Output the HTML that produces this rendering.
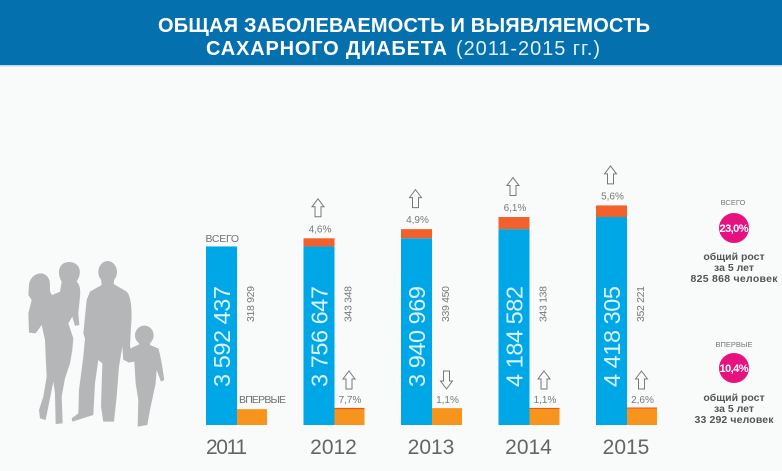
<!DOCTYPE html>
<html lang="ru">
<head>
<meta charset="utf-8">
<title>Общая заболеваемость и выявляемость сахарного диабета</title>
<style>
html,body{margin:0;padding:0;background:#f9fafa;}
svg{display:block;font-family:"Liberation Sans","Noto Sans CJK JP",sans-serif;}
</style>
</head>
<body>
<svg id="chart" xmlns="http://www.w3.org/2000/svg" width="782" height="471" viewBox="0 0 782 471">
  <rect x="0" y="0" width="782" height="471" fill="#f9fafa"/>
  <rect x="0" y="0" width="782" height="65" fill="#0470ae"/>
  <rect x="0" y="65" width="782" height="1.5" fill="#bcdcec"/>
  <text x="158" y="32" font-size="20" font-weight="700" fill="#fff" textLength="492">ОБЩАЯ ЗАБОЛЕВАЕМОСТЬ И ВЫЯВЛЯЕМОСТЬ</text>
  <text x="206" y="55" font-size="20" font-weight="700" fill="#fff" textLength="241">САХАРНОГО ДИАБЕТА</text>
  <text x="456" y="55" font-size="20" fill="#e4f0f7" textLength="144">(2011-2015 гг.)</text>

  <g transform="translate(15,250) scale(0.3333)" fill="#b5b6b8">
    <path d="M42,105 C45,70 90,55 103,90 C108,110 100,125 112,135 L135,125 L140,95 C125,70 130,38 160,36 C190,35 202,60 190,85 L185,95 C195,105 197,120 195,140 L190,190 L193,225 L180,228 L172,200 L160,220 L175,265 L172,300 L165,340 L150,385 L140,440 L143,520 L122,522 L120,430 L115,395 L92,510 L75,505 L72,480 L85,440 L95,380 L92,320 L90,270 L80,225 L62,250 L42,248 L40,190 L50,150 L40,135 Z"/>
    <ellipse cx="278" cy="66" rx="28" ry="33"/>
    <path d="M258,85 L298,85 L296,102 L335,125 C350,140 352,190 348,230 L345,290 L350,300 L340,335 L325,330 L322,290 L312,350 L305,440 L297,515 L265,515 L258,470 L262,340 L250,330 L240,400 L235,495 L172,515 L170,505 L190,490 L192,420 L205,320 L210,265 L205,250 L215,150 L225,125 L260,105 Z"/>
    <ellipse cx="388" cy="256" rx="28" ry="29"/>
    <path d="M372,278 L405,278 L405,285 L430,295 C440,330 445,370 448,390 L438,395 L425,360 L422,400 L405,480 L397,525 L368,530 L370,450 L362,400 L358,335 L340,338 L325,325 L340,305 L352,292 L372,284 Z"/>
  </g>

  <g id="marks"></g>

  <text x="205.5" y="242" font-size="10.5" fill="#6f7173" textLength="33.5">ВСЕГО</text>
  <text x="239" y="403" font-size="10.5" fill="#6f7173" textLength="47">ВПЕРВЫЕ</text>

  <g text-anchor="middle">
    <text x="733" y="205" font-size="7.5" fill="#777">ВСЕГО</text>
    <circle cx="734" cy="228" r="15" fill="#e5127f"/>
    <text x="734" y="232" font-size="11" font-weight="700" fill="#fff" textLength="29">23,0%</text>
    <text x="734" y="260" font-size="10.5" font-weight="700" fill="#555">общий рост</text>
    <text x="734" y="271" font-size="10.5" font-weight="700" fill="#555">за 5 лет</text>
    <text x="734" y="282" font-size="10.5" font-weight="700" fill="#555" textLength="87">825 868 человек</text>
  </g>
  <g text-anchor="middle">
    <text x="734" y="347" font-size="7.5" fill="#777">ВПЕРВЫЕ</text>
    <circle cx="734" cy="368" r="15" fill="#e5127f"/>
    <text x="734" y="372" font-size="11" font-weight="700" fill="#fff" textLength="29">10,4%</text>
    <text x="734" y="401" font-size="10.5" font-weight="700" fill="#555">общий рост</text>
    <text x="734" y="412" font-size="10.5" font-weight="700" fill="#555">за 5 лет</text>
    <text x="734" y="423" font-size="10.5" font-weight="700" fill="#555" textLength="79">33 292 человек</text>
  </g>
</svg>
<script>
const years = ["2011", "2012", "2013", "2014", "2015"];
const totalCases = [3592437, 3756647, 3940969, 4184582, 4418305];
const totalIncrease = [0, 164210, 184322, 243613, 233723];
const totalGrowthPct = [null, 4.6, 4.9, 6.1, 5.6];
const newCases = [318929, 343348, 339450, 343138, 352221];
const newIncrease = [0, 24419, 0, 3688, 9083];
const newGrowthPct = [null, 7.7, -1.1, 1.1, 2.6];

const NS = "http://www.w3.org/2000/svg";
const marks = document.getElementById("marks");
const BASE_Y = 425;
const PX_PER_CASE = 0.0000497;
const BAR_W = 31;
function xBand(i) { return 206 + 97.5 * i; }
function yVal(v) { return BASE_Y - v * PX_PER_CASE; }
function fmtNum(v) { return String(v).replace(/\B(?=(\d{3})+(?!\d))/g, " "); }
function fmtPct(v) { return Math.abs(v).toFixed(1).replace(".", ",") + "%"; }
function make(tag, attrs, txt) {
  const el = document.createElementNS(NS, tag);
  for (const k in attrs) el.setAttribute(k, attrs[k]);
  if (txt !== undefined) el.textContent = txt;
  marks.appendChild(el);
  return el;
}
function arrowPoints(cx, top, down) {
  const p = [[0,0],[6,8],[3,8],[3,18],[-3,18],[-3,8],[-6,8]];
  return p.map(function (q) { return (cx + q[0]) + "," + (down ? top + 18 - q[1] : top + q[1]); }).join(" ");
}

years.forEach(function (year, i) {
  const x = xBand(i);
  const totalTop = yVal(totalCases[i]);
  const blueTop = yVal(totalCases[i] - totalIncrease[i]);
  const newTop = yVal(newCases[i]);

  const blue = make("rect", {x: x, y: blueTop, width: BAR_W, height: BASE_Y - blueTop, fill: "#00a7e7"});
  
  

  if (totalIncrease[i] > 0) {
    const red = make("rect", {x: x, y: totalTop, width: BAR_W, height: blueTop - totalTop, fill: "#f2602b"});
    
    
  }

  const orange = make("rect", {x: x + BAR_W, y: newTop, width: 30, height: BASE_Y - newTop, fill: "#f7941e"});
  
  

  if (newIncrease[i] > 0) {
    const strip = make("rect", {x: x + BAR_W, y: newTop, width: 30, height: Math.max(1, newIncrease[i] * PX_PER_CASE), fill: "#e8541f"});
    
    
  }

  const lx = x + 24;
  const totalLabel = make("text", {x: lx, y: 286, transform: "rotate(-90 " + lx + " 286)", "text-anchor": "end", "font-size": 23.5, fill: "#d9f2fc", textLength: 101}, fmtNum(totalCases[i]));
  
  

  const nx = x + 48;
  const newLabel = make("text", {x: nx, y: 286, transform: "rotate(-90 " + nx + " 286)", "text-anchor": "end", "font-size": 10.5, fill: "#77797b", textLength: 36}, fmtNum(newCases[i]));
  
  

  const yearLabel = make("text", {x: x + (i === 0 ? 20.5 : 30), y: 454, "text-anchor": "middle", "font-size": 21, fill: "#636567", textLength: i === 0 ? 41 : 46.7}, year);
  
  

  if (totalGrowthPct[i] !== null) {
    const tp = make("text", {x: x + 16.5, y: totalTop - 6, "text-anchor": "middle", "font-size": 10, fill: "#77797b"}, fmtPct(totalGrowthPct[i]));
    
    
    const ta = make("polygon", {points: arrowPoints(x + 14.5, totalTop - 39.5, totalGrowthPct[i] < 0), fill: "#fbfbfb", stroke: "#77797b", "stroke-width": 1});
    
    
  }
  if (newGrowthPct[i] !== null) {
    const np = make("text", {x: x + BAR_W + 15.5, y: 403, "text-anchor": "middle", "font-size": 10, fill: "#77797b"}, fmtPct(newGrowthPct[i]));
    
    
    const na = make("polygon", {points: arrowPoints(x + BAR_W + 14.5, 371, newGrowthPct[i] < 0), fill: "#fbfbfb", stroke: "#77797b", "stroke-width": 1});
    
    
  }
});
</script>
</body>
</html>
